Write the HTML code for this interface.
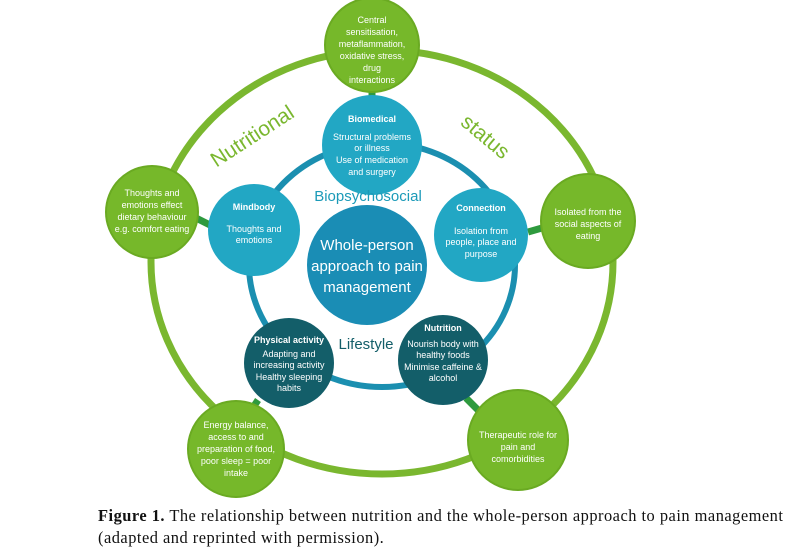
<!DOCTYPE html>
<html><head><meta charset="utf-8"><style>
body{margin:0;background:#fff;width:800px;height:549px;overflow:hidden;font-family:"Liberation Sans",sans-serif}
.cap{position:absolute;left:98px;top:505px;font-family:"Liberation Serif",serif;font-size:16.4px;letter-spacing:0.5px;line-height:22px;color:#111;white-space:nowrap}
</style></head><body>
<svg width="800" height="500" style="position:absolute;left:0;top:0" font-family="Liberation Sans, sans-serif">
<ellipse cx="382" cy="262" rx="231" ry="212" fill="none" stroke="#7ab72f" stroke-width="7"/>
<ellipse cx="382" cy="265" rx="133" ry="122" fill="none" stroke="#1b8fb0" stroke-width="6"/>
<g stroke="#2e9a3e" stroke-width="7">
<line x1="372" y1="90" x2="372" y2="102"/>
<line x1="196" y1="218" x2="210" y2="225"/>
<line x1="528" y1="232" x2="542" y2="228"/>
<line x1="258" y1="400" x2="250" y2="412"/>
<line x1="466" y1="398" x2="480" y2="412"/>
</g>
<g fill="#76b82a" stroke="#6aaa22" stroke-width="2">
<circle cx="372" cy="45" r="47"/>
<circle cx="152" cy="212" r="46"/>
<circle cx="588" cy="221" r="47"/>
<circle cx="236" cy="449" r="48"/>
<circle cx="518" cy="440" r="50"/>
</g>
<g fill="#22a7c4">
<circle cx="372" cy="145" r="50"/>
<circle cx="254" cy="230" r="46"/>
<circle cx="481" cy="235" r="47"/>
</g>
<circle cx="367" cy="265" r="60" fill="#1a8db5"/>
<g fill="#135e69">
<circle cx="289" cy="363" r="45"/>
<circle cx="443" cy="360" r="45"/>
</g>
<g fill="#fff" font-size="9" text-anchor="middle">
<text x="372" y="23">Central</text><text x="372" y="35">sensitisation,</text><text x="372" y="47">metaflammation,</text><text x="372" y="59">oxidative stress,</text><text x="372" y="71">drug</text><text x="372" y="83">interactions</text>
<text x="152" y="196">Thoughts and</text><text x="152" y="208">emotions effect</text><text x="152" y="220">dietary behaviour</text><text x="152" y="232">e.g. comfort eating</text>
<text x="588" y="215">Isolated from the</text><text x="588" y="227">social aspects of</text><text x="588" y="239">eating</text>
<text x="236" y="428">Energy balance,</text><text x="236" y="440">access to and</text><text x="236" y="452">preparation of food,</text><text x="236" y="464">poor sleep = poor</text><text x="236" y="476">intake</text>
<text x="518" y="438">Therapeutic role for</text><text x="518" y="450">pain and</text><text x="518" y="462">comorbidities</text>
<text x="372" y="122" font-weight="bold">Biomedical</text>
<text x="372" y="140">Structural problems</text><text x="372" y="151">or illness</text><text x="372" y="163">Use of medication</text><text x="372" y="175">and surgery</text>
<text x="254" y="210" font-weight="bold">Mindbody</text>
<text x="254" y="232">Thoughts and</text><text x="254" y="243">emotions</text>
<text x="481" y="211" font-weight="bold">Connection</text>
<text x="481" y="234">Isolation from</text><text x="481" y="245">people, place and</text><text x="481" y="257">purpose</text>
<text x="289" y="343" font-weight="bold">Physical activity</text>
<text x="289" y="357">Adapting and</text><text x="289" y="368">increasing activity</text><text x="289" y="380">Healthy sleeping</text><text x="289" y="391">habits</text>
<text x="443" y="331" font-weight="bold">Nutrition</text>
<text x="443" y="347">Nourish body with</text><text x="443" y="358">healthy foods</text><text x="443" y="370">Minimise caffeine &amp;</text><text x="443" y="381">alcohol</text>
<text x="367" y="250" font-size="15">Whole-person</text>
<text x="367" y="271" font-size="15">approach to pain</text>
<text x="367" y="292" font-size="15">management</text>
</g>
<text x="368" y="201" font-size="15" fill="#1b9ab8" text-anchor="middle">Biopsychosocial</text>
<text x="366" y="349" font-size="15" fill="#135e69" text-anchor="middle">Lifestyle</text>
<text x="256" y="142" font-size="21" fill="#7ab72f" text-anchor="middle" transform="rotate(-33 256 142)">Nutritional</text>
<text x="481" y="142" font-size="21" fill="#7ab72f" text-anchor="middle" transform="rotate(40 481 142)">status</text>
</svg>
<div class="cap"><b>Figure 1.</b> The relationship between nutrition and the whole-person approach to pain management<br>(adapted and reprinted with permission).</div>
</body></html>
